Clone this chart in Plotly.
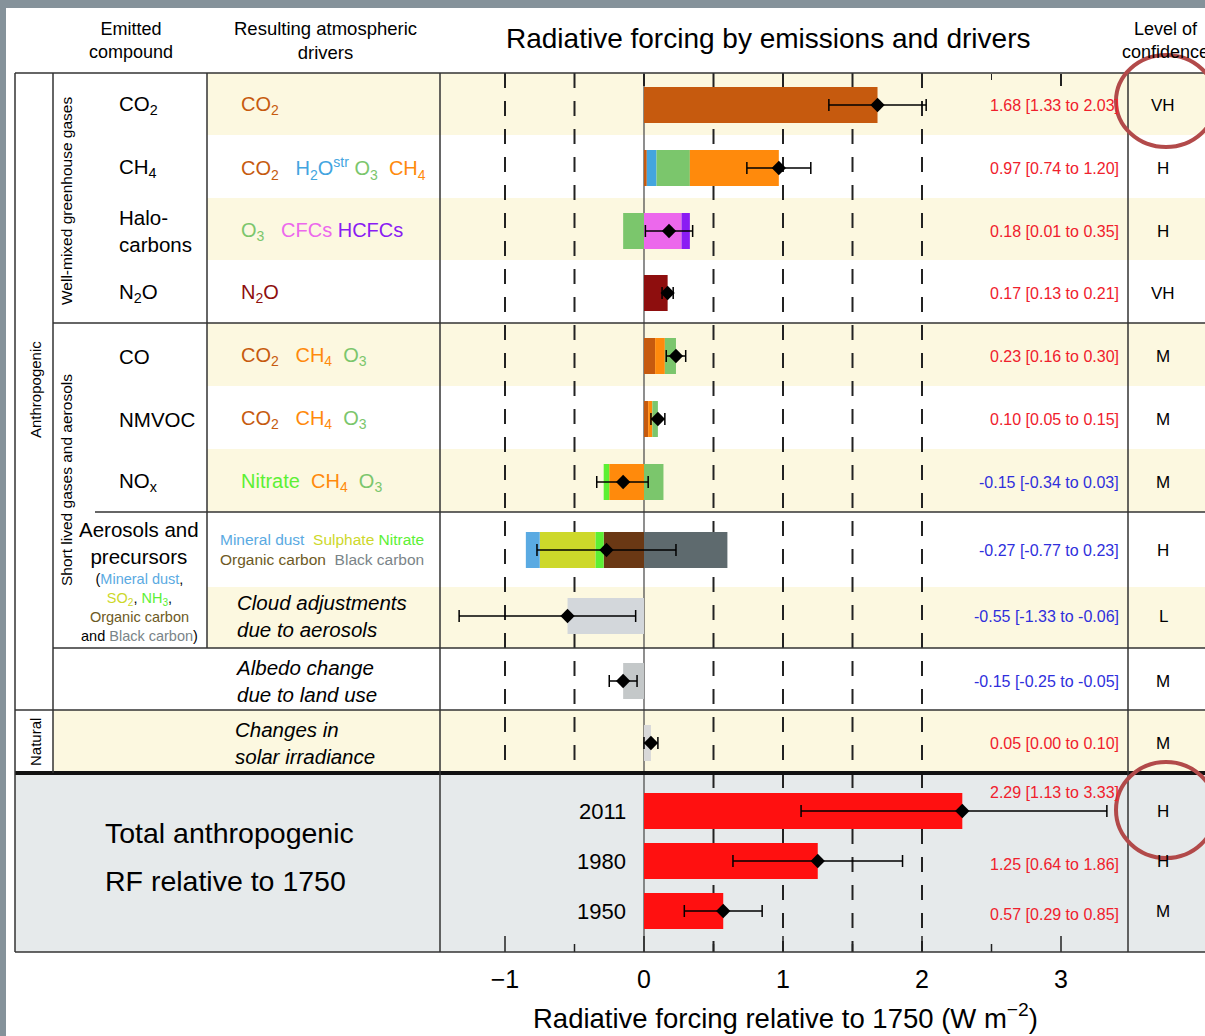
import plotly.graph_objects as go

W, H = 1205, 1036

# ---------------- data ----------------
ROW_NAMES = ["CO2", "CH4", "Halocarbons", "N2O", "CO", "NMVOC", "NOx",
             "Aerosols", "Cloud", "Albedo", "Solar"]
VALUES = [1.68, 0.97, 0.18, 0.17, 0.23, 0.10, -0.15, -0.27, -0.55, -0.15, 0.05]
LOW = [1.33, 0.74, 0.01, 0.13, 0.16, 0.05, -0.34, -0.77, -1.33, -0.25, 0.00]
HIGH = [2.03, 1.20, 0.35, 0.21, 0.30, 0.15, 0.03, 0.23, -0.06, -0.05, 0.10]
CONF = ["VH", "H", "H", "VH", "M", "M", "M", "H", "L", "M", "M"]

# component contributions per row, ordered from zero outwards
COMP_CO2 = [("CO2", 1.68)]
COMP_CH4 = [("CO2", 0.02), ("H2O", 0.07), ("O3", 0.24), ("CH4", 0.64)]
COMP_HALO = [("O3", -0.15), ("CFC", 0.27), ("HCFC", 0.06)]
COMP_N2O = [("N2O", 0.17)]
COMP_CO = [("CO2", 0.08), ("CH4", 0.07), ("O3", 0.08)]
COMP_NMVOC = [("CO2", 0.03), ("CH4", 0.03), ("O3", 0.04)]
COMP_NOX = [("CH4", -0.25), ("NIT", -0.04), ("O3", 0.14)]
COMP_AER = [("OC", -0.29), ("NIT", -0.06), ("SUL", -0.40), ("DUST", -0.10), ("BC", 0.60)]
COMP_CLOUD = [("CLOUD", -0.55)]
COMP_ALB = [("ALB", -0.15)]
COMP_SOL = [("SOL", 0.05)]
ROW_COMPONENTS = [COMP_CO2, COMP_CH4, COMP_HALO, COMP_N2O, COMP_CO, COMP_NMVOC,
                  COMP_NOX, COMP_AER, COMP_CLOUD, COMP_ALB, COMP_SOL]

YEARS = ["2011", "1980", "1950"]
TOTAL = [2.29, 1.25, 0.57]
TOTAL_LOW = [1.13, 0.64, 0.29]
TOTAL_HIGH = [3.33, 1.86, 0.85]
TOTAL_CONF = ["H", "H", "M"]

TICKS = [-1, 0, 1, 2, 3]
TICK_TEXT = ["\u22121", "0", "1", "2", "3"]
MINOR_TICKS = [-1, -0.5, 0, 0.5, 1, 1.5, 2, 2.5, 3]
GRID_X = [-1, -0.5, 0.5, 1, 1.5, 2]

# ---------------- styles / layout positions ----------------
COL = {
    "CO2": "#c65a0e", "H2O": "#43a5df", "O3": "#7bc66c", "CH4": "#ff8a0c",
    "CFC": "#ec68ec", "HCFC": "#8a1cf3", "N2O": "#8e0e0e", "NIT": "#5cf034",
    "DUST": "#5aaae2", "SUL": "#cdd82a", "OC": "#6a3814", "BC": "#5e6a6e",
    "CLOUD": "#d3d7db", "ALB": "#c4c8c9", "SOL": "#d8d8d8", "TOT": "#ff1010",
}
TXT_OC = "#6d5a24"
TXT_BC = "#7a8488"
RED_T = "#f0202c"
BLUE_T = "#2f2fdc"
YELLOW = "#fcf8e0"
GRAYBG = "#e6eaeb"
FONT = "Liberation Sans, Arial, sans-serif"

ROW_Y = [105, 168, 231, 293, 356, 419, 482, 550, 616, 681, 743]
TOTAL_Y = [811, 861, 911]
BAR_H = 36
X0_PX, UNIT_PX = 644, 139
AX_L, AX_R = 440, 1128


def px(x):
    return x / W


def sp(t, c):
    return f"<span style='color:{c}'>{t}</span>"


NB = "\u00a0"

fig = go.Figure()

# ---------------- bars ----------------
for comps, yv in zip(ROW_COMPONENTS, ROW_Y):
    pos, neg = 0.0, 0.0
    for name, v in comps:
        if v >= 0:
            base = pos
            pos += v
        else:
            base = neg
            neg += v
        fig.add_trace(go.Bar(orientation="h", x=[v], y=[yv], base=[base], width=BAR_H,
                             marker=dict(color=COL[name], line=dict(width=0)),
                             showlegend=False, hoverinfo="skip"))

fig.add_trace(go.Bar(orientation="h", x=TOTAL, y=TOTAL_Y, base=[0] * len(TOTAL), width=BAR_H,
                     marker=dict(color=COL["TOT"], line=dict(width=0)),
                     showlegend=False, hoverinfo="skip"))

# error bars with diamonds
all_v = VALUES + TOTAL
all_lo = LOW + TOTAL_LOW
all_hi = HIGH + TOTAL_HIGH
all_y = ROW_Y + TOTAL_Y
fig.add_trace(go.Scatter(
    x=all_v, y=all_y, mode="markers",
    marker=dict(symbol="diamond", size=11, color="black"),
    error_x=dict(type="data", symmetric=False,
                 array=[h - v for h, v in zip(all_hi, all_v)],
                 arrayminus=[v - l for v, l in zip(all_v, all_lo)],
                 width=6, thickness=1.5, color="black"),
    showlegend=False, hoverinfo="skip"))

# helper for top axis
fig.add_trace(go.Scatter(x=[None], y=[None], xaxis="x2", yaxis="y", showlegend=False,
                         hoverinfo="skip"))

shapes = []
# gray frame of screenshot
shapes.append(dict(type="rect", xref="paper", yref="y", x0=0, x1=px(6), y0=0, y1=H,
                   fillcolor="#85929a", line=dict(width=0), layer="below"))
shapes.append(dict(type="rect", xref="paper", yref="y", x0=0, x1=1, y0=0, y1=8,
                   fillcolor="#85929a", line=dict(width=0), layer="below"))

# yellow bands
YELLOW_ROWS = [(73, 135, 207), (198, 260, 207), (323, 386, 207), (449, 512, 207),
               (587, 648, 207), (710, 773, 53)]
for y0, y1, xl in YELLOW_ROWS:
    shapes.append(dict(type="rect", xref="paper", yref="y", x0=px(xl), x1=1, y0=y0, y1=y1,
                       fillcolor=YELLOW, line=dict(width=0), layer="below"))
# total section
shapes.append(dict(type="rect", xref="paper", yref="y", x0=px(15), x1=1, y0=773, y1=952,
                   fillcolor=GRAYBG, line=dict(width=0), layer="below"))

# dashed grid lines
for g in GRID_X:
    y_end = 952 if g > 0 else 773
    shapes.append(dict(type="line", xref="x", yref="y", x0=g, x1=g, y0=73, y1=y_end,
                       line=dict(color="#222", width=2, dash="15px,13px"), layer="below"))
# zero line
shapes.append(dict(type="line", xref="x", yref="y", x0=0, x1=0, y0=73, y1=952,
                   line=dict(color="#444", width=1.2), layer="below"))

# bottom ticks of the total section (pointing upward)
for t in MINOR_TICKS:
    tl = 16 if float(t).is_integer() else 8
    shapes.append(dict(type="line", xref="x", yref="y", x0=t, x1=t, y0=952 - tl, y1=952,
                       line=dict(color="#222", width=1.5)))

# table lines
HLINES = [(73, 15, 1.5), (323, 53, 1.5), (512, 95, 1.5), (648, 53, 1.5), (710, 15, 1.5),
          (952, 15, 1.5)]
for y, xl, lw in HLINES:
    shapes.append(dict(type="line", xref="paper", yref="y", x0=px(xl), x1=1, y0=y, y1=y,
                       line=dict(color="#333", width=lw)))
shapes.append(dict(type="line", xref="paper", yref="y", x0=px(15), x1=1, y0=773, y1=773,
                   line=dict(color="#111", width=4)))
VLINES = [(15, 73, 952), (53, 73, 773), (207, 73, 648), (440, 73, 952), (1128, 73, 952)]
for x, y0, y1 in VLINES:
    shapes.append(dict(type="line", xref="paper", yref="y", x0=px(x), x1=px(x), y0=y0, y1=y1,
                       line=dict(color="#333", width=1.5)))

# red circles
for y0, y1 in [(55, 147), (762, 858)]:
    shapes.append(dict(type="circle", xref="paper", yref="y", x0=px(1116), x1=px(1216),
                       y0=y0, y1=y1, line=dict(color="#b24a4a", width=4)))

ann = []


def add_text(x, y, text, size, color="black", xanchor="center", angle=0, italic=False):
    if italic:
        text = "<i>" + text.replace("<br>", "</i><br><i>") + "</i>"
    ann.append(dict(x=px(x), y=y, xref="paper", yref="y", text=text, showarrow=False,
                    xanchor=xanchor, yanchor="middle", textangle=angle,
                    font=dict(family=FONT, size=size, color=color), align=xanchor))


# headers
add_text(131, 40, "Emitted<br>compound", 18)
add_text(325, 40, "Resulting atmospheric<br>drivers", 18.5)
add_text(768, 38, "Radiative forcing by emissions and drivers", 28)
add_text(1165, 40, "Level of<br>confidence", 18)

# rotated group labels
add_text(35, 390, "Anthropogenic", 15, angle=-90)
add_text(35, 742, "Natural", 15, angle=-90)
add_text(66, 201, "Well-mixed greenhouse gases", 15.5, angle=-90)
add_text(66, 480, "Short lived gases and aerosols", 15.5, angle=-90)

# compounds
COMPOUND_LABELS = ["CO<sub>2</sub>", "CH<sub>4</sub>", "Halo-<br>carbons", "N<sub>2</sub>O",
                   "CO", "NMVOC", "NO<sub>x</sub>"]
for lab, yv in zip(COMPOUND_LABELS, ROW_Y[:7]):
    add_text(117, yv, lab, 20.5, xanchor="left")
add_text(139, 543, "Aerosols and<br>precursors", 20.5)
add_text(139, 607,
         "(" + sp("Mineral dust", COL["DUST"]) + ",<br>" + sp("SO<sub>2</sub>", COL["SUL"]) + ", "
         + sp("NH<sub>3</sub>", COL["NIT"]) + ",<br>" + sp("Organic carbon", TXT_OC)
         + "<br>and " + sp("Black carbon", TXT_BC) + ")", 14.5)

# drivers
DRIVER_TEXT = [
    sp("CO<sub>2</sub>", COL["CO2"]),
    sp("CO<sub>2</sub>", COL["CO2"]) + NB * 3 + sp("H<sub>2</sub>O<sup>str</sup>", COL["H2O"]) + NB
    + sp("O<sub>3</sub>", COL["O3"]) + NB * 2 + sp("CH<sub>4</sub>", COL["CH4"]),
    sp("O<sub>3</sub>", COL["O3"]) + NB * 3 + sp("CFCs", COL["CFC"]) + NB + sp("HCFCs", COL["HCFC"]),
    sp("N<sub>2</sub>O", COL["N2O"]),
    sp("CO<sub>2</sub>", COL["CO2"]) + NB * 3 + sp("CH<sub>4</sub>", COL["CH4"]) + NB * 2
    + sp("O<sub>3</sub>", COL["O3"]),
    sp("CO<sub>2</sub>", COL["CO2"]) + NB * 3 + sp("CH<sub>4</sub>", COL["CH4"]) + NB * 2
    + sp("O<sub>3</sub>", COL["O3"]),
    sp("Nitrate", COL["NIT"]) + NB * 2 + sp("CH<sub>4</sub>", COL["CH4"]) + NB * 2
    + sp("O<sub>3</sub>", COL["O3"]),
]
for t, yv in zip(DRIVER_TEXT, ROW_Y[:7]):
    add_text(239, yv, t, 20, xanchor="left")
add_text(218, 549,
         sp("Mineral dust", COL["DUST"]) + NB * 2 + sp("Sulphate", COL["SUL"]) + NB
         + sp("Nitrate", COL["NIT"]) + "<br>" + sp("Organic carbon", TXT_OC) + NB * 2
         + sp("Black carbon", TXT_BC), 15.5, xanchor="left")
add_text(235, 616, "Cloud adjustments<br>due to aerosols", 20.5, xanchor="left", italic=True)
add_text(233, 681, "Albedo change<br>due to land use", 20.5, xanchor="left", italic=True)
add_text(233, 743, "Changes in<br>solar irradiance", 20.5, xanchor="left", italic=True)

# values + confidence
for v, lo, hi, c, yv in zip(VALUES, LOW, HIGH, CONF, ROW_Y):
    add_text(1121, yv, f"{v:.2f} [{lo:.2f} to {hi:.2f}]", 16,
             color=RED_T if v > 0 else BLUE_T, xanchor="right")
    add_text(1163, yv, c, 17)
TOTAL_TEXT_Y = [792, 864, 914]
for v, lo, hi, c, yv, yt, yr in zip(TOTAL, TOTAL_LOW, TOTAL_HIGH, TOTAL_CONF, TOTAL_Y,
                                     TOTAL_TEXT_Y, YEARS):
    add_text(1121, yt, f"{v:.2f} [{lo:.2f} to {hi:.2f}]", 16, color=RED_T, xanchor="right")
    add_text(1163, yv, c, 17)
    add_text(628, yv, yr, 22, xanchor="right")

add_text(103, 833, "Total anthropogenic", 28.5, xanchor="left")
add_text(103, 881, "RF relative to 1750", 28.5, xanchor="left")

# axis title
add_text((AX_L + AX_R) / 2 + 1, 1016, "Radiative forcing relative to 1750 (W m<sup>\u22122</sup>)", 27.5)

x_range = [(AX_L - X0_PX) / UNIT_PX, (AX_R - X0_PX) / UNIT_PX]

fig.update_layout(
    width=W, height=H, autosize=False,
    margin=dict(l=0, r=0, t=0, b=0, pad=0),
    paper_bgcolor="white", plot_bgcolor="rgba(0,0,0,0)",
    barmode="overlay", hovermode=False,
    xaxis=dict(domain=[px(AX_L), px(AX_R)], range=x_range, anchor="free",
               position=1 - 952 / H, showgrid=False, zeroline=False, showline=False,
               tickmode="array", tickvals=TICKS, ticktext=TICK_TEXT,
               ticks="", ticklabelstandoff=10,
               tickfont=dict(family=FONT, size=25, color="black"), fixedrange=True),
    xaxis2=dict(matches="x", overlaying="x", side="top", anchor="free", position=1 - 73 / H,
                showgrid=False, zeroline=False, showline=False, showticklabels=False,
                tickmode="array", tickvals=TICKS,
                ticks="inside", ticklen=12, tickwidth=1.5, tickcolor="#222",
                minor=dict(dtick=0.5, tick0=0, ticks="inside", ticklen=6, tickwidth=1.5,
                           tickcolor="#222", showgrid=False), fixedrange=True),
    yaxis=dict(domain=[0, 1], range=[H, 0], visible=False, fixedrange=True),
    shapes=shapes, annotations=ann,
)

fig.write_html("out.html", config={"displayModeBar": False, "staticPlot": True},
               post_script="document.body.style.margin='0';document.body.style.overflow='hidden';")
